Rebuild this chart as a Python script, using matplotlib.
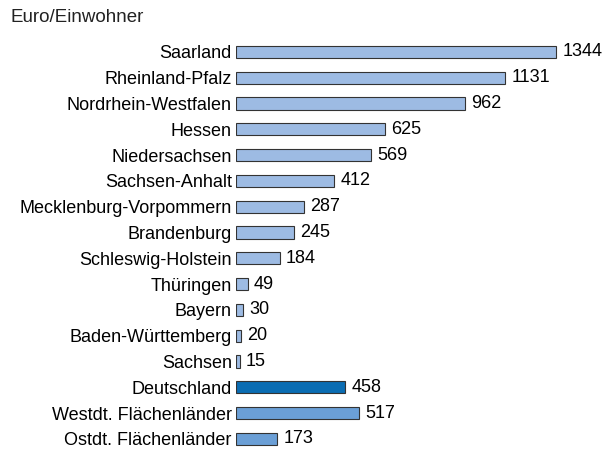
import matplotlib.pyplot as plt

laender = ["Saarland", "Rheinland-Pfalz", "Nordrhein-Westfalen", "Hessen",
           "Niedersachsen", "Sachsen-Anhalt", "Mecklenburg-Vorpommern",
           "Brandenburg", "Schleswig-Holstein", "Thüringen", "Bayern",
           "Baden-Württemberg", "Sachsen", "Deutschland",
           "Westdt. Flächenländer", "Ostdt. Flächenländer"]
werte = [1344, 1131, 962, 625, 569, 412, 287, 245, 184, 49, 30, 20, 15,
         458, 517, 173]
farben = ["#9dbbe3"] * 13 + ["#0b6db3", "#6b9fd6", "#6b9fd6"]

plt.rcParams['font.family'] = ['Liberation Sans', 'DejaVu Sans']

fig = plt.figure(figsize=(6.12, 4.49), dpi=100)
W, H = 612, 449
ax = fig.add_axes([236 / W, 0, 364 / W, 410 / H])
y = list(range(len(laender)))
ax.barh(y, werte, height=0.47, color=farben, edgecolor="#333333", linewidth=0.8)
ax.set_xlim(0, 1529)
ax.set_ylim(15.39, -0.5)
ax.set_yticks(y)
ax.set_yticklabels(laender, fontsize=13)
ax.tick_params(axis="y", length=0, pad=3)
ax.set_xticks([])
for s in ax.spines.values():
    s.set_visible(False)
for yi, v in zip(y, werte):
    ax.annotate(str(v), (v, yi), xytext=(4.5, 0), textcoords="offset points",
                va="center", ha="left", fontsize=13)

fig.text(10 / W, 1 - 17 / H, "Euro/Einwohner", fontsize=13.5, va="center", ha="left",
         color="#222222")

fig.savefig("out.png", dpi=100)
